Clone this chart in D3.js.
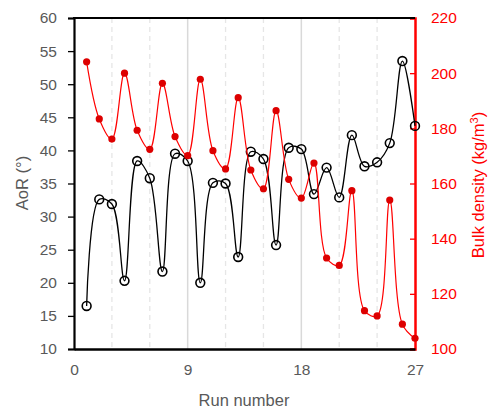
<!DOCTYPE html>
<html>
<head>
<meta charset="utf-8">
<script src="https://cdn.jsdelivr.net/npm/d3@7"></script>
<style>
	body { margin: 0; background: #fff; }
	text { font-family: "Liberation Sans", Arial, sans-serif; }
</style>
</head>
<body>
<svg id="chart" width="491" height="412"></svg>
<script>
"use strict";

// Run numbers 1..27
var runs = d3.range(1, 28);

// Angle of repose (deg), left axis
var aor = [16.5, 32.6, 31.9, 20.3, 38.4, 35.8, 21.7, 39.5, 38.4,
	20.0, 35.1, 35.0, 23.9, 39.8, 38.7, 25.7, 40.4, 40.2,
	33.4, 37.4, 32.9, 42.3, 37.6, 38.2, 41.1, 53.5, 43.7];

// Bulk density (kg/m3), right axis
var density = [204.1, 183.4, 176.1, 200.0, 179.3, 172.4, 196.3, 177.0, 170.1,
	197.8, 171.9, 165.3, 191.1, 164.9, 158.1, 186.4, 161.5, 154.7,
	167.4, 133.0, 130.3, 157.4, 113.9, 112.0, 154.0, 109.0, 103.9];

var xTicks = [0, 9, 18, 27];
var xMinor = [3, 6, 12, 15, 21, 24];
var leftTicks = d3.range(10, 61, 5);
var rightTicks = d3.range(100, 221, 20);

var svg = d3.select('#chart');
var pL = 74, pR = 415, pT = 18, pB = 349;

var x = d3.scaleLinear().domain([0, 27]).range([pL, pR]);
var yL = d3.scaleLinear().domain([10, 60]).range([pB, pT]);
var yR = d3.scaleLinear().domain([100, 220]).range([pB, pT]);

var grey = '#595959', red = '#ff0000';

// gridlines
svg.append('g').selectAll('line').data(xMinor).join('line')
	.attr('x1', d => x(d)).attr('x2', d => x(d))
	.attr('y1', pT).attr('y2', pB)
	.attr('stroke', '#e6e6e6').attr('stroke-width', 1.3)
	.attr('stroke-dasharray', '5,4');
svg.append('g').selectAll('line').data([9, 18]).join('line')
	.attr('x1', d => x(d)).attr('x2', d => x(d))
	.attr('y1', pT).attr('y2', pB)
	.attr('stroke', '#d9d9d9').attr('stroke-width', 1.5);

// left axis
var gL = svg.append('g').attr('transform', 'translate(' + pL + ',0)')
	.call(d3.axisLeft(yL).tickValues(leftTicks).tickSize(6).tickPadding(11));
gL.select('.domain').attr('stroke', '#000').attr('stroke-width', 2.2);
gL.selectAll('.tick line').attr('stroke', '#000').attr('stroke-width', 1.3);
gL.selectAll('text').attr('fill', grey).style('font-size', '15.5px');

// right axis, ticks point inward
var gR = svg.append('g').attr('transform', 'translate(' + pR + ',0)')
	.call(d3.axisRight(yR).tickValues(rightTicks).tickSize(-5).tickPadding(16));
gR.select('.domain').attr('stroke', red).attr('stroke-width', 2.5);
gR.selectAll('.tick line').attr('stroke', red).attr('stroke-width', 1.3);
gR.selectAll('text').attr('fill', red).style('font-size', '15.5px');

// bottom axis
var gB = svg.append('g').attr('transform', 'translate(0,' + pB + ')')
	.call(d3.axisBottom(x).tickValues(xTicks).tickSize(0).tickPadding(15));
gB.select('.domain').attr('stroke', '#000').attr('stroke-width', 2.5);
gB.selectAll('text').attr('fill', grey).style('font-size', '15.5px');

// top border
svg.append('line').attr('x1', pL - 1).attr('x2', pR).attr('y1', pT).attr('y2', pT)
	.attr('stroke', '#000').attr('stroke-width', 2.2);

// series (centripetal spline keeps the overshoot small, like the original)
var lineL = d3.line().x((d, i) => x(runs[i])).y(d => yL(d)).curve(d3.curveCatmullRom.alpha(0.5));
var lineR = d3.line().x((d, i) => x(runs[i])).y(d => yR(d)).curve(d3.curveCatmullRom.alpha(0.5));

svg.append('path').datum(aor).attr('d', lineL)
	.attr('fill', 'none').attr('stroke', '#000').attr('stroke-width', 1.3);
svg.append('g').selectAll('circle').data(aor).join('circle')
	.attr('cx', (d, i) => x(runs[i])).attr('cy', d => yL(d)).attr('r', 4.4)
	.attr('fill', 'none').attr('stroke', '#000').attr('stroke-width', 1.6);

svg.append('path').datum(density).attr('d', lineR)
	.attr('fill', 'none').attr('stroke', red).attr('stroke-width', 1.2);
svg.append('g').selectAll('circle').data(density).join('circle')
	.attr('cx', (d, i) => x(runs[i])).attr('cy', d => yR(d)).attr('r', 3.6)
	.attr('fill', '#dd0000');

// axis titles
svg.append('text').attr('x', 244).attr('y', 406).attr('text-anchor', 'middle')
	.attr('fill', grey).style('font-size', '16.5px').text('Run number');
svg.append('text').attr('transform', 'translate(28,183) rotate(-90)')
	.attr('text-anchor', 'middle').attr('fill', grey).style('font-size', '16.5px')
	.text('AoR (°)');
var rt = svg.append('text').attr('transform', 'translate(484,185) rotate(-90)')
	.attr('text-anchor', 'middle').attr('fill', red).style('font-size', '16.5px');
rt.append('tspan').text('Bulk density (kg/m');
rt.append('tspan').attr('dy', -6).style('font-size', '11px').text('3');
rt.append('tspan').attr('dy', 6).text(')');
</script>
</body>
</html>
